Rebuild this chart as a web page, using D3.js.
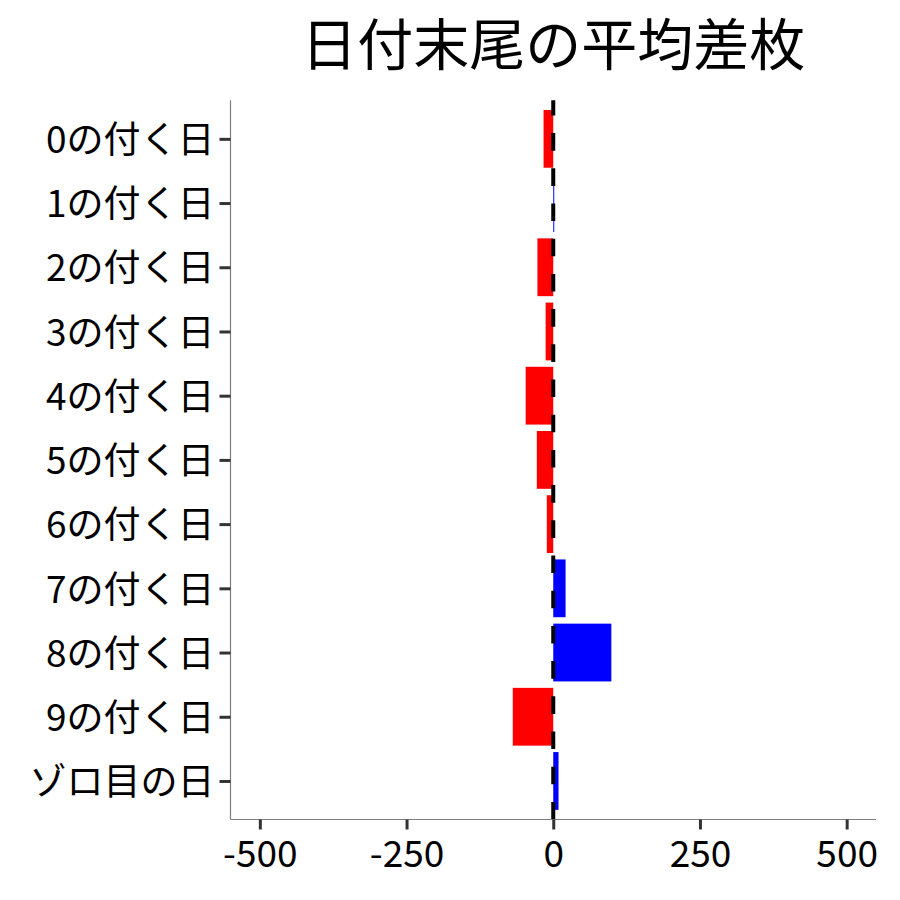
<!DOCTYPE html>
<html><head><meta charset="utf-8">
<script src="https://cdn.jsdelivr.net/npm/d3@7"></script>
<style>
html,body{margin:0;padding:0;background:#fff;}
svg text{font-family:"Noto Sans CJK JP","Noto Sans",sans-serif;}
</style></head>
<body><svg id="c" width="900" height="900"></svg>
<script>
const title = "日付末尾の平均差枚";
const categories = ["0の付く日","1の付く日","2の付く日","3の付く日","4の付く日","5の付く日","6の付く日","7の付く日","8の付く日","9の付く日","ゾロ目の日"];
const values = [-16.5, 1, -27, -13, -47, -28, -11, 21, 99, -69, 9];
const xTicks = [-500, -250, 0, 250, 500];
const xDomain = [-550, 550];

const svg = d3.select("#c");
const L = 230.5, R = 876, T = 100.3, B = 819.5;
const x = d3.scaleLinear().domain(xDomain).range([L, R]);
const y = d3.scalePoint().domain(categories).range([T, B]).padding(0.6);
const bh = y.step() * 0.9;

svg.append("g").selectAll("rect").data(categories).join("rect")
  .attr("x", (d,i) => Math.min(x(0), x(values[i])))
  .attr("width", (d,i) => Math.max(Math.abs(x(values[i]) - x(0)), 1))
  .attr("y", d => y(d) - bh/2)
  .attr("height", bh)
  .attr("fill", (d,i) => values[i] >= 0 ? "#0000ff" : "#ff0000");

// dashed zero line (drawn bottom to top)
svg.append("line")
  .attr("x1", x(0)).attr("x2", x(0))
  .attr("y1", B).attr("y2", T)
  .attr("stroke", "#000").attr("stroke-width", 4)
  .attr("stroke-dasharray", "17.6 17.6");

// axes
const xAxis = d3.axisBottom(x).tickValues(xTicks).tickSize(10).tickPadding(11).tickFormat(d => String(d));
const gx = svg.append("g").attr("transform", `translate(0,${B})`).call(xAxis);
gx.select(".domain").attr("stroke", "#7f7f7f").attr("stroke-width", 1.2).attr("d", `M${L},0H${R}`);
gx.selectAll(".tick line").attr("stroke", "#333").attr("stroke-width", 3);
gx.selectAll(".tick text").attr("fill", "#000").attr("font-size", 37).attr("font-family", "Noto Sans CJK JP");

const yAxis = d3.axisLeft(y).tickSize(11).tickPadding(5);
const gy = svg.append("g").attr("transform", `translate(${L},0)`).call(yAxis);
gy.select(".domain").attr("stroke", "#7f7f7f").attr("stroke-width", 1.2).attr("d", `M0,${T}V${B}`);
gy.selectAll(".tick line").attr("stroke", "#333").attr("stroke-width", 3);
gy.selectAll(".tick text").attr("fill", "#000").attr("font-size", 37).attr("dy", "0.37em").attr("font-family", "Noto Sans CJK JP");

svg.append("text").attr("x", (L+R)/2).attr("y", 65)
  .attr("text-anchor", "middle").attr("font-size", 56).attr("fill", "#000")
  .text(title);
</script></body></html>
